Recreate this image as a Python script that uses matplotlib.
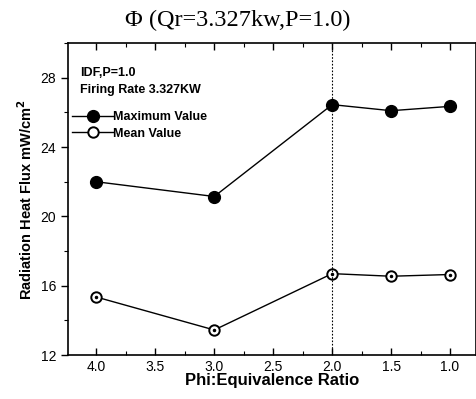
import matplotlib
matplotlib.use('Agg')
import matplotlib.pyplot as plt
from matplotlib.ticker import MultipleLocator

plt.rcParams['font.family'] = ['Liberation Sans', 'DejaVu Sans']

phi = [4.0, 3.0, 2.0, 1.5, 1.0]
max_val = [22.0, 21.15, 26.45, 26.1, 26.35]
mean_val = [15.35, 13.45, 16.7, 16.55, 16.65]

fig = plt.figure(figsize=(4.76, 3.99), dpi=100)
ax = fig.add_axes([0.143, 0.110, 0.857, 0.782])

ax.plot(phi, max_val, '-o', color='black', lw=1.0, ms=8.5, mfc='black', label='Maximum Value')
ax.plot(phi, mean_val, '-o', color='black', lw=1.0, ms=7.5, mfc='white', mew=1.4, label='Mean Value')
# small dot inside the hollow markers
ax.plot(phi, mean_val, 'o', color='black', ms=1.5, ls='none')

ax.axvline(2.0, color='black', lw=0.8, ls=(0, (1.5, 1.5)))

ax.set_xlim(4.24, 0.78)
ax.set_ylim(12, 30)
ax.xaxis.set_major_locator(MultipleLocator(0.5))
ax.xaxis.set_minor_locator(MultipleLocator(0.25))
ax.yaxis.set_major_locator(MultipleLocator(4))
ax.yaxis.set_minor_locator(MultipleLocator(2))
ax.tick_params(axis='x', which='both', direction='in', top=True, labelsize=10)
ax.tick_params(axis='y', which='both', direction='out', right=True, labelsize=10)
ax.tick_params(which='major', length=5, width=1)
ax.tick_params(which='minor', length=3, width=0.8)
ax.set_xticks([4.0, 3.5, 3.0, 2.5, 2.0, 1.5, 1.0])
ax.set_xticklabels(['4.0', '3.5', '3.0', '2.5', '2.0', '1.5', '1.0'])
for s in ax.spines.values():
    s.set_linewidth(1.2)

ax.set_xlabel('Phi:Equivalence Ratio', fontsize=12, fontweight='bold', labelpad=-1)
ax.set_ylabel('Radiation Heat Flux mW/cm$^\\mathbf{2}$', fontsize=10.5, fontweight='bold', labelpad=4)
fig.text(0.5, 0.948, '\u03a6 (Qr=3.327kw,P=1.0)', ha='center', va='center',
         fontsize=17.5, family=['Liberation Serif', 'DejaVu Serif'])

ax.text(0.03, 0.904, 'IDF,P=1.0', transform=ax.transAxes, fontsize=9, fontweight='bold', va='center')
ax.text(0.03, 0.849, 'Firing Rate 3.327KW', transform=ax.transAxes, fontsize=9, fontweight='bold', va='center')
leg = ax.legend(loc='upper left', bbox_to_anchor=(-0.012, 0.81), frameon=False,
                prop={'size': 9, 'weight': 'bold'}, handlelength=3.3, handletextpad=0.0,
                labelspacing=0.35, borderpad=0.2)

fig.savefig('out.png', dpi=100)
